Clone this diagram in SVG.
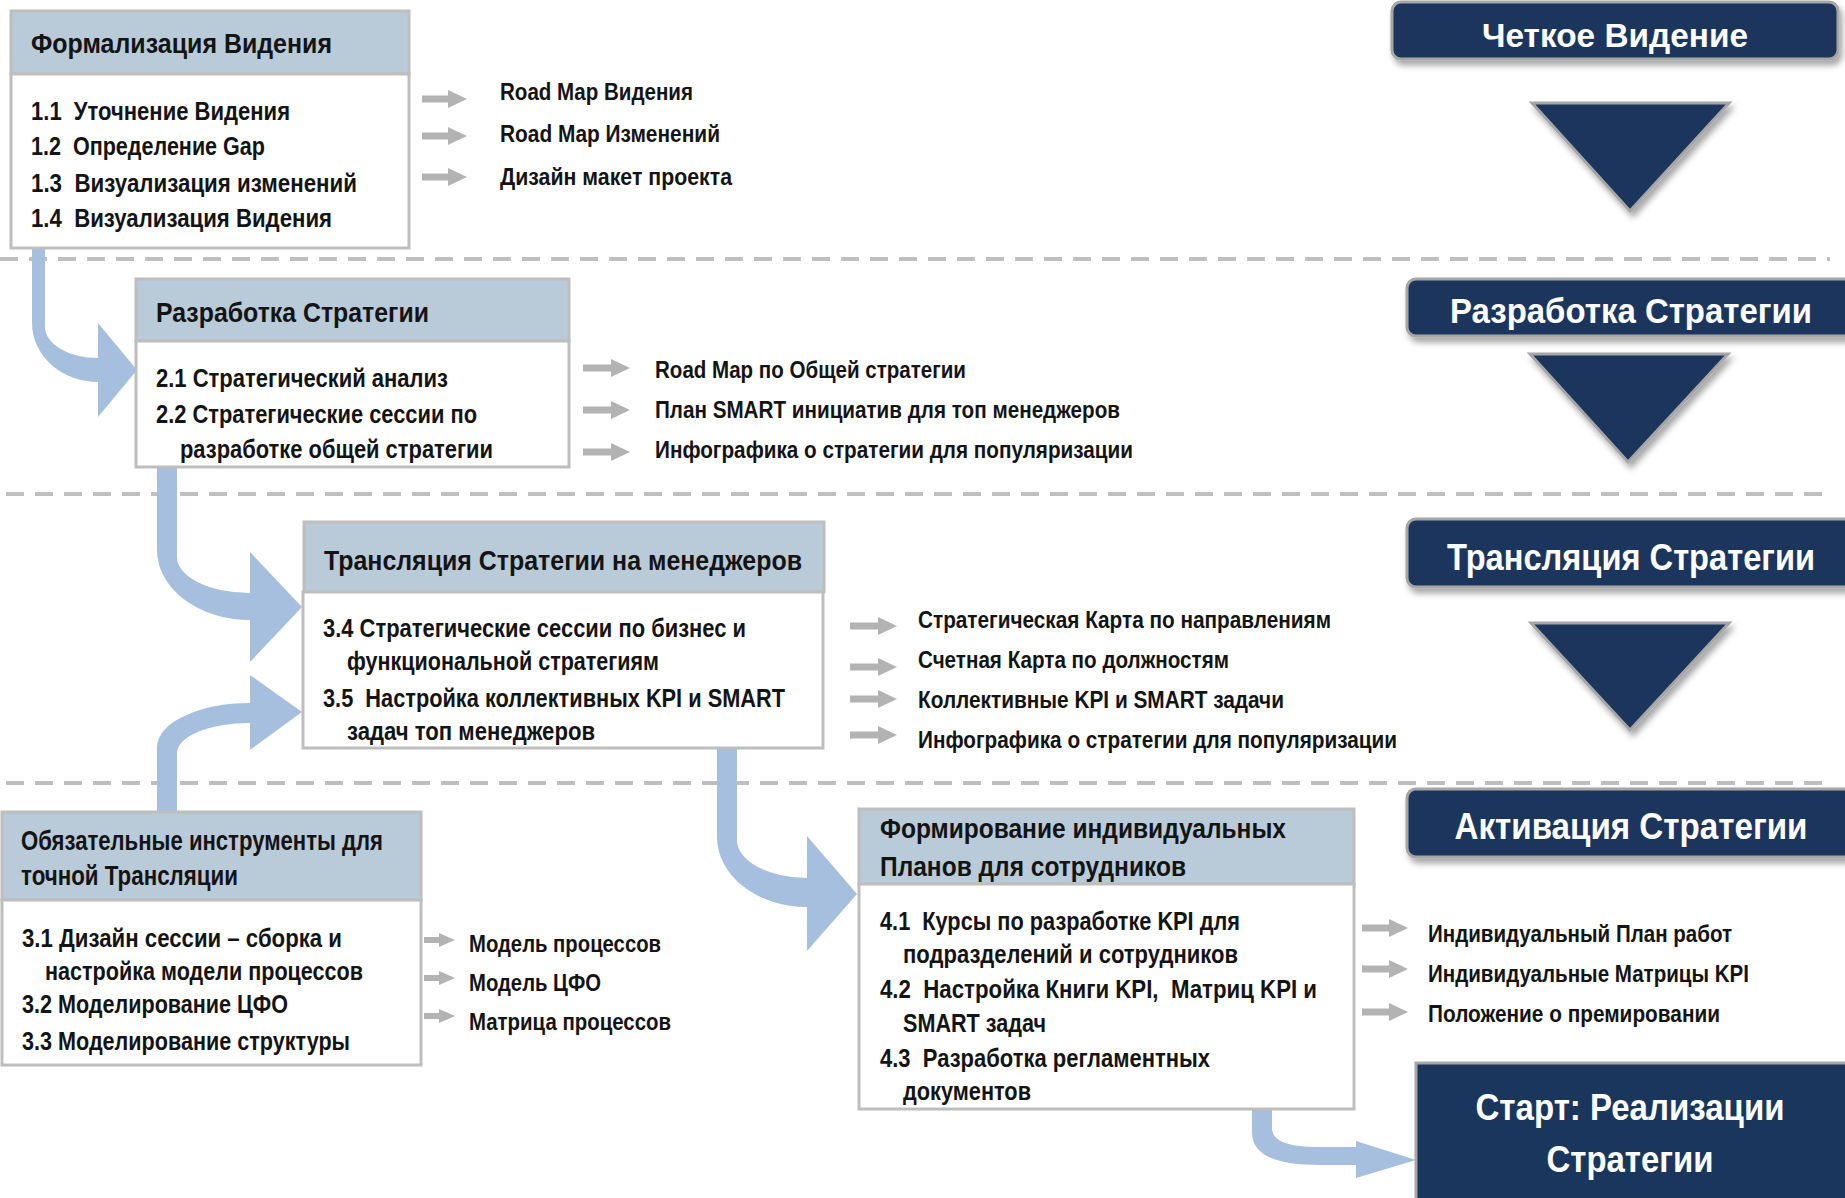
<svg xmlns="http://www.w3.org/2000/svg" width="1845" height="1198" viewBox="0 0 1845 1198">
<style>
.t{font-family:'Liberation Sans Narrow','Liberation Sans',Arial,sans-serif;font-weight:bold;fill:#141414}
.h{font-size:28px}
.i{font-size:25px}
.o{font-size:24px}
.p{fill:#fff;text-anchor:middle}
.hd{fill:#B9CAD9;stroke:#BEBEBE;stroke-width:3}
.bd{fill:#fff;stroke:#BEBEBE;stroke-width:3}
.dash{stroke:#BFBFBF;stroke-width:4;stroke-dasharray:18 11;fill:none}
.ba{fill:#A6BFDE}
.ga{stroke:#B3B3B3;stroke-width:7}
.gs{stroke:#B3B3B3;stroke-width:6}
.pn{fill:#1B365D;stroke:#A6A6A6;stroke-width:3}
</style>
<defs>
<filter id="sh" x="-10%" y="-30%" width="130%" height="180%">
<feDropShadow dx="3" dy="5" stdDeviation="3" flood-color="#000" flood-opacity="0.35"/>
</filter>
<marker id="gh" markerUnits="userSpaceOnUse" markerWidth="20" markerHeight="20" refX="0" refY="9" orient="auto">
<path d="M0,0 L19,9 L0,18 Z" fill="#B3B3B3"/>
</marker>
<marker id="gk" markerUnits="userSpaceOnUse" markerWidth="18" markerHeight="16" refX="0" refY="7" orient="auto">
<path d="M0,0 L16,7 L0,14 Z" fill="#B3B3B3"/>
</marker>
</defs>
<rect width="1845" height="1198" fill="#fff"/>

<g id="separators">
<line class="dash" x1="0" y1="259" x2="1830" y2="259"/>
<line class="dash" x1="6" y1="494" x2="1830" y2="494"/>
<line class="dash" x1="6" y1="783" x2="1830" y2="783"/>
</g>

<g id="connectors">
<path class="ba" d="M32,246 L45,246 L45,327 A53,31 0 0 0 98,358 L98,323 L137,370 L98,417 L98,382 A66,59 0 0 1 32,323 Z"/>
<path class="ba" d="M157,466 L177,466 L177,557 A73,36 0 0 0 250,593 L250,552 L302,607 L250,662 L250,620 A93,70 0 0 1 157,550 Z"/>
<path class="ba" d="M157,813 L157,747 A93,44 0 0 1 250,703 L250,675 L302,712 L250,750 L250,723 A73,30 0 0 0 177,753 L177,813 Z"/>
<path class="ba" d="M717,747 L737,747 L737,840 A70,38 0 0 0 807,878 L807,836 L857,894 L807,951 L807,907 A90,70 0 0 1 717,837 Z"/>
<path class="ba" d="M1252,1108 L1272,1108 L1272,1128 C1272,1142 1290,1147 1320,1147 L1356,1147 L1356,1141 L1416,1160 L1356,1178 L1356,1165 L1320,1165 C1275,1165 1252,1155 1252,1132 Z"/>
<line class="ga" x1="422" y1="99" x2="448" y2="99" marker-end="url(#gh)"/>
<line class="ga" x1="422" y1="136" x2="448" y2="136" marker-end="url(#gh)"/>
<line class="ga" x1="422" y1="177" x2="448" y2="177" marker-end="url(#gh)"/>
<line class="ga" x1="583" y1="368" x2="611" y2="368" marker-end="url(#gh)"/>
<line class="ga" x1="583" y1="410" x2="611" y2="410" marker-end="url(#gh)"/>
<line class="ga" x1="583" y1="452" x2="611" y2="452" marker-end="url(#gh)"/>
<line class="ga" x1="850" y1="626" x2="878" y2="626" marker-end="url(#gh)"/>
<line class="ga" x1="850" y1="667" x2="878" y2="667" marker-end="url(#gh)"/>
<line class="ga" x1="850" y1="699" x2="878" y2="699" marker-end="url(#gh)"/>
<line class="ga" x1="850" y1="735" x2="878" y2="735" marker-end="url(#gh)"/>
<line class="gs" x1="424" y1="940" x2="439" y2="940" marker-end="url(#gk)"/>
<line class="gs" x1="424" y1="978" x2="439" y2="978" marker-end="url(#gk)"/>
<line class="gs" x1="424" y1="1016" x2="439" y2="1016" marker-end="url(#gk)"/>
<line class="ga" x1="1362" y1="928" x2="1389" y2="928" marker-end="url(#gh)"/>
<line class="ga" x1="1362" y1="969" x2="1389" y2="969" marker-end="url(#gh)"/>
<line class="ga" x1="1362" y1="1012" x2="1389" y2="1012" marker-end="url(#gh)"/>
</g>

<g id="box1">
<rect class="hd" x="11" y="11" width="398" height="63"/>
<rect class="bd" x="11" y="74" width="398" height="174"/>
<text class="t h" x="31" y="53" textLength="301" lengthAdjust="spacingAndGlyphs">Формализация Видения</text>
<text class="t i" x="31" y="120" textLength="259" lengthAdjust="spacingAndGlyphs" xml:space="preserve">1.1  Уточнение Видения</text>
<text class="t i" x="31" y="155" textLength="234" lengthAdjust="spacingAndGlyphs" xml:space="preserve">1.2  Определение Gap</text>
<text class="t i" x="31" y="192" textLength="326" lengthAdjust="spacingAndGlyphs" xml:space="preserve">1.3  Визуализация изменений</text>
<text class="t i" x="31" y="227" textLength="301" lengthAdjust="spacingAndGlyphs" xml:space="preserve">1.4  Визуализация Видения</text>
</g>
<g id="out1a"><text class="t o" x="500" y="100" textLength="193" lengthAdjust="spacingAndGlyphs">Road Map Видения</text></g>
<g id="out1b"><text class="t o" x="500" y="142" textLength="220" lengthAdjust="spacingAndGlyphs">Road Map Изменений</text></g>
<g id="out1c"><text class="t o" x="500" y="185" textLength="232" lengthAdjust="spacingAndGlyphs">Дизайн макет проекта</text></g>

<g id="box2">
<rect class="hd" x="136" y="279" width="433" height="62"/>
<rect class="bd" x="136" y="341" width="433" height="126"/>
<text class="t h" x="156" y="322" textLength="273" lengthAdjust="spacingAndGlyphs">Разработка Стратегии</text>
<text class="t i" x="156" y="387" textLength="292" lengthAdjust="spacingAndGlyphs">2.1 Стратегический анализ</text>
<text class="t i" x="156" y="423" textLength="321" lengthAdjust="spacingAndGlyphs">2.2 Стратегические сессии по</text>
<text class="t i" x="180" y="458" textLength="313" lengthAdjust="spacingAndGlyphs">разработке общей стратегии</text>
</g>
<g id="out2a"><text class="t o" x="655" y="378" textLength="311" lengthAdjust="spacingAndGlyphs">Road Map по Общей стратегии</text></g>
<g id="out2b"><text class="t o" x="655" y="418" textLength="465" lengthAdjust="spacingAndGlyphs">План SMART инициатив для топ менеджеров</text></g>
<g id="out2c"><text class="t o" x="655" y="458" textLength="478" lengthAdjust="spacingAndGlyphs">Инфографика о стратегии для популяризации</text></g>

<g id="box3">
<rect class="hd" x="304" y="522" width="520" height="70"/>
<rect class="bd" x="303" y="592" width="520" height="156"/>
<text class="t h" x="324" y="570" textLength="478" lengthAdjust="spacingAndGlyphs">Трансляция Стратегии на менеджеров</text>
<text class="t i" x="323" y="637" textLength="423" lengthAdjust="spacingAndGlyphs">3.4 Стратегические сессии по бизнес и</text>
<text class="t i" x="347" y="670" textLength="312" lengthAdjust="spacingAndGlyphs">функциональной стратегиям</text>
<text class="t i" x="323" y="707" textLength="462" lengthAdjust="spacingAndGlyphs" xml:space="preserve">3.5  Настройка коллективных KPI и SMART</text>
<text class="t i" x="347" y="740" textLength="248" lengthAdjust="spacingAndGlyphs">задач топ менеджеров</text>
</g>
<g id="out3a"><text class="t o" x="918" y="628" textLength="413" lengthAdjust="spacingAndGlyphs">Стратегическая Карта по направлениям</text></g>
<g id="out3b"><text class="t o" x="918" y="668" textLength="311" lengthAdjust="spacingAndGlyphs">Счетная Карта по должностям</text></g>
<g id="out3c"><text class="t o" x="918" y="708" textLength="366" lengthAdjust="spacingAndGlyphs">Коллективные KPI и SMART задачи</text></g>
<g id="out3d"><text class="t o" x="918" y="748" textLength="479" lengthAdjust="spacingAndGlyphs">Инфографика о стратегии для популяризации</text></g>

<g id="box3x">
<rect class="hd" x="2" y="812" width="419" height="88"/>
<rect class="bd" x="2" y="900" width="419" height="165"/>
<text class="t h" x="21" y="850" textLength="362" lengthAdjust="spacingAndGlyphs">Обязательные инструменты для</text>
<text class="t h" x="21" y="885" textLength="217" lengthAdjust="spacingAndGlyphs">точной Трансляции</text>
<text class="t i" x="22" y="947" textLength="320" lengthAdjust="spacingAndGlyphs">3.1 Дизайн сессии – сборка и</text>
<text class="t i" x="45" y="980" textLength="318" lengthAdjust="spacingAndGlyphs">настройка модели процессов</text>
<text class="t i" x="22" y="1013" textLength="266" lengthAdjust="spacingAndGlyphs">3.2 Моделирование ЦФО</text>
<text class="t i" x="22" y="1050" textLength="328" lengthAdjust="spacingAndGlyphs">3.3 Моделирование структуры</text>
</g>
<g id="out3xa"><text class="t o" x="469" y="952" textLength="192" lengthAdjust="spacingAndGlyphs">Модель процессов</text></g>
<g id="out3xb"><text class="t o" x="469" y="991" textLength="132" lengthAdjust="spacingAndGlyphs">Модель ЦФО</text></g>
<g id="out3xc"><text class="t o" x="469" y="1030" textLength="202" lengthAdjust="spacingAndGlyphs">Матрица процессов</text></g>

<g id="box4">
<rect class="hd" x="859" y="809" width="495" height="75"/>
<rect class="bd" x="859" y="884" width="495" height="225"/>
<text class="t h" x="880" y="838" textLength="406" lengthAdjust="spacingAndGlyphs">Формирование индивидуальных</text>
<text class="t h" x="880" y="876" textLength="306" lengthAdjust="spacingAndGlyphs">Планов для сотрудников</text>
<text class="t i" x="880" y="930" textLength="360" lengthAdjust="spacingAndGlyphs" xml:space="preserve">4.1  Курсы по разработке KPI для</text>
<text class="t i" x="903" y="963" textLength="335" lengthAdjust="spacingAndGlyphs">подразделений и сотрудников</text>
<text class="t i" x="880" y="998" textLength="437" lengthAdjust="spacingAndGlyphs" xml:space="preserve">4.2  Настройка Книги KPI,  Матриц KPI и</text>
<text class="t i" x="903" y="1032" textLength="143" lengthAdjust="spacingAndGlyphs">SMART задач</text>
<text class="t i" x="880" y="1067" textLength="330" lengthAdjust="spacingAndGlyphs" xml:space="preserve">4.3  Разработка регламентных</text>
<text class="t i" x="903" y="1100" textLength="128" lengthAdjust="spacingAndGlyphs">документов</text>
</g>
<g id="out4a"><text class="t o" x="1428" y="942" textLength="304" lengthAdjust="spacingAndGlyphs">Индивидуальный План работ</text></g>
<g id="out4b"><text class="t o" x="1428" y="982" textLength="321" lengthAdjust="spacingAndGlyphs">Индивидуальные Матрицы KPI</text></g>
<g id="out4c"><text class="t o" x="1428" y="1022" textLength="292" lengthAdjust="spacingAndGlyphs">Положение о премировании</text></g>

<g id="stage1">
<rect class="pn" x="1392" y="2" width="446" height="57" rx="9" filter="url(#sh)"/>
<text class="t p" x="1615" y="47" font-size="33" textLength="266" lengthAdjust="spacingAndGlyphs">Четкое Видение</text>
</g>
<g id="down1"><polygon class="pn" points="1532,103 1729,103 1630,211" stroke-width="2.5" filter="url(#sh)"/></g>
<g id="stage2">
<rect class="pn" x="1407" y="279" width="460" height="57" rx="9" filter="url(#sh)"/>
<text class="t p" x="1631" y="323" font-size="35" textLength="362" lengthAdjust="spacingAndGlyphs">Разработка Стратегии</text>
</g>
<g id="down2"><polygon class="pn" points="1530,354 1728,354 1628,462" stroke-width="2.5" filter="url(#sh)"/></g>
<g id="stage3">
<rect class="pn" x="1407" y="519" width="460" height="68" rx="9" filter="url(#sh)"/>
<text class="t p" x="1631" y="570" font-size="37" textLength="368" lengthAdjust="spacingAndGlyphs">Трансляция Стратегии</text>
</g>
<g id="down3"><polygon class="pn" points="1531,623 1729,623 1630,730" stroke-width="2.5" filter="url(#sh)"/></g>
<g id="stage4">
<rect class="pn" x="1407" y="789" width="460" height="68" rx="9" filter="url(#sh)"/>
<text class="t p" x="1631" y="839" font-size="37" textLength="353" lengthAdjust="spacingAndGlyphs">Активация Стратегии</text>
</g>
<g id="start">
<rect class="pn" x="1416" y="1063" width="450" height="150"/>
<text class="t p" x="1630" y="1120" font-size="37" textLength="309" lengthAdjust="spacingAndGlyphs">Старт: Реализации</text>
<text class="t p" x="1630" y="1172" font-size="37" textLength="167" lengthAdjust="spacingAndGlyphs">Стратегии</text>
</g>
</svg>
